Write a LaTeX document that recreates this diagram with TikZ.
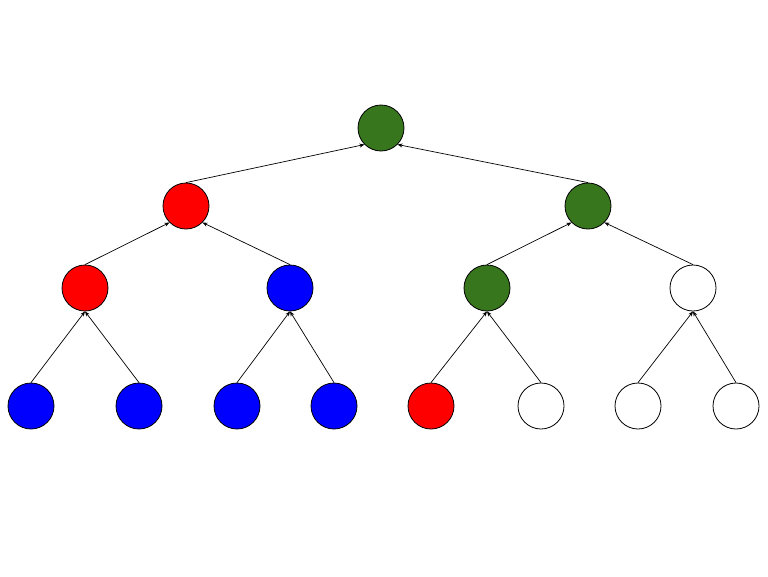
\documentclass[tikz,border=0pt]{standalone}
\usetikzlibrary{arrows.meta}
\definecolor{treegreen}{HTML}{38761D}
\begin{document}
\begin{tikzpicture}[x=1pt,y=-1pt,
  vert/.style={circle,draw=black,line width=0.8pt,minimum size=46pt,inner sep=0pt},
  edge/.style={line width=0.7pt,-{Stealth[length=5pt,width=4pt]}}]
\useasboundingbox (0,0) rectangle (768,576);
\node[vert,fill=treegreen] (r) at (381,128) {};
\node[vert,fill=red] (a) at (186,206) {};
\node[vert,fill=treegreen] (b) at (588,206) {};
\node[vert,fill=red] (c) at (85,288) {};
\node[vert,fill=blue] (d) at (290,288) {};
\node[vert,fill=treegreen] (e) at (487,288) {};
\node[vert,fill=white] (f) at (693,288) {};
\node[vert,fill=blue] (l1) at (31,406) {};
\node[vert,fill=blue] (l2) at (139,406) {};
\node[vert,fill=blue] (l3) at (237,406) {};
\node[vert,fill=blue] (l4) at (334,406) {};
\node[vert,fill=red] (l5) at (431,406) {};
\node[vert,fill=white] (l6) at (541,406) {};
\node[vert,fill=white] (l7) at (638,406) {};
\node[vert,fill=white] (l8) at (736,406) {};
\draw[edge] (a.north) -- (r.south west);
\draw[edge] (b.north) -- (r.south east);
\draw[edge] (c.north) -- (a.south west);
\draw[edge] (d.north) -- (a.south east);
\draw[edge] (e.north) -- (b.south west);
\draw[edge] (f.north) -- (b.south east);
\draw[edge] (l1.north) -- (c.south);
\draw[edge] (l2.north) -- (c.south);
\draw[edge] (l3.north) -- (d.south);
\draw[edge] (l4.north) -- (d.south);
\draw[edge] (l5.north) -- (e.south);
\draw[edge] (l6.north) -- (e.south);
\draw[edge] (l7.north) -- (f.south);
\draw[edge] (l8.north) -- (f.south);
\end{tikzpicture}
\end{document}
